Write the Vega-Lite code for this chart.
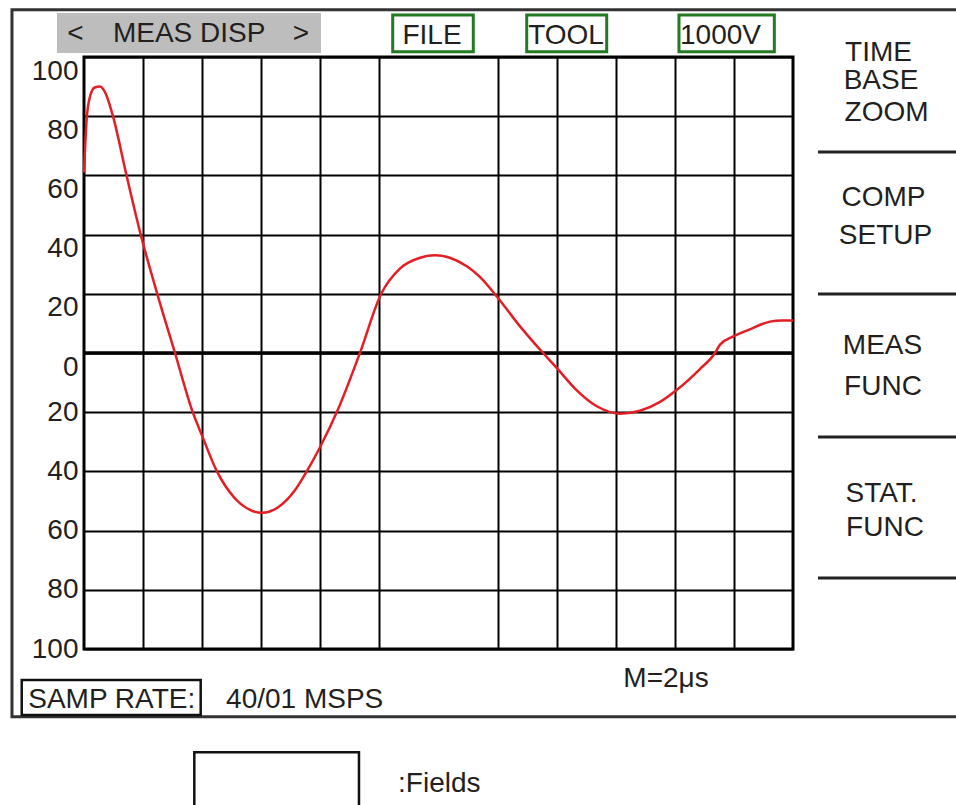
{
  "$schema": "https://vega.github.io/schema/vega-lite/v6.json",
  "width": 709,
  "height": 592,
  "autosize": {"type": "none"},
  "padding": {"left": 84, "top": 57, "right": 163, "bottom": 156},
  "background": "#ffffff",
  "config": {
    "view": {"stroke": "#000000", "strokeWidth": 3},
    "font": "Liberation Sans",
    "text": {"font": "Liberation Sans", "fontSize": 28, "color": "#231f20"}
  },
  "encoding": {
    "x": {
      "field": "x", "type": "quantitative",
      "scale": {"domain": [0, 12], "nice": false, "zero": false},
      "axis": {
        "values": [1, 2, 3, 4, 5, 7, 8, 9, 10, 11],
        "labels": false, "ticks": false, "domain": false, "title": null,
        "grid": true, "gridColor": "#000000", "gridWidth": 2, "gridOpacity": 1
      }
    },
    "y": {
      "field": "y", "type": "quantitative",
      "scale": {"domain": [-100, 100], "nice": false, "zero": false},
      "axis": {
        "values": [-100, -80, -60, -40, -20, 0, 20, 40, 60, 80, 100],
        "labelExpr": "'' + abs(datum.value)",
        "labelFont": "Liberation Sans", "labelFontSize": 28, "labelColor": "#231f20",
        "labelPadding": 6, "labelFlush": false, "labelOverlap": false,
        "labelBaseline": {"condition": {"test": "datum.value >= 0", "value": "top"}, "value": "middle"},
        "ticks": false, "domain": false, "title": null,
        "grid": true, "gridColor": "#000000", "gridWidth": 2, "gridOpacity": 1
      }
    }
  },
  "layer": [
    {
      "data": {"values": [{"x": -1.219, "x2": 14.8, "y": 116.0, "y2": -122.9}]},
      "mark": {"type": "rect", "filled": false, "stroke": "#333333", "strokeWidth": 3},
      "encoding": {"x2": {"field": "x2"}, "y2": {"field": "y2"}}
    },
    {
      "data": {"values": [{"x": -0.457, "x2": 4.011, "y": 114.86, "y2": 101.35}]},
      "mark": {"type": "rect", "fill": "#bdbdbd"},
      "encoding": {"x2": {"field": "x2"}, "y2": {"field": "y2"}}
    },
    {
      "data": {"values": [
        {"x": 5.225, "x2": 6.589, "y": 114.19, "y2": 101.79},
        {"x": 7.493, "x2": 8.847, "y": 114.19, "y2": 101.79},
        {"x": 10.07, "x2": 11.684, "y": 114.19, "y2": 101.79}
      ]},
      "mark": {"type": "rect", "filled": false, "stroke": "#237a23", "strokeWidth": 3},
      "encoding": {"x2": {"field": "x2"}, "y2": {"field": "y2"}}
    },
    {
      "data": {"values": [
        {"x": -1.054, "x2": 1.975, "y": -110.47, "y2": -122.3},
        {"x": 1.867, "x2": 4.654, "y": -134.9, "y2": -160}
      ]},
      "mark": {"type": "rect", "filled": false, "stroke": "#111111", "strokeWidth": 2.5},
      "encoding": {"x2": {"field": "x2"}, "y2": {"field": "y2"}}
    },
    {
      "data": {"values": [
        {"x": 12.423, "x2": 14.8, "y": 67.9},
        {"x": 12.423, "x2": 14.8, "y": 19.93},
        {"x": 12.423, "x2": 14.8, "y": -28.38},
        {"x": 12.423, "x2": 14.8, "y": -76.01}
      ]},
      "mark": {"type": "rule", "stroke": "#222222", "strokeWidth": 3},
      "encoding": {"x2": {"field": "x2"}}
    },
    {
      "data": {"values": [{"x": 0, "x2": 12, "y": 0}]},
      "mark": {"type": "rule", "stroke": "#000000", "strokeWidth": 3.5},
      "encoding": {"x2": {"field": "x2"}}
    },
    {
      "data": {"values": [
        {"x": 0, "y": 61}, {"x": 0.045, "y": 79}, {"x": 0.1, "y": 86.5}, {"x": 0.18, "y": 89.7},
        {"x": 0.27, "y": 90}, {"x": 0.37, "y": 87.5}, {"x": 0.49, "y": 80}, {"x": 0.72, "y": 60},
        {"x": 0.96, "y": 40}, {"x": 1.24, "y": 20}, {"x": 1.54, "y": 0}, {"x": 1.84, "y": -20},
        {"x": 2.0, "y": -28}, {"x": 2.25, "y": -40}, {"x": 2.55, "y": -49}, {"x": 2.81, "y": -53},
        {"x": 3.01, "y": -54}, {"x": 3.28, "y": -52.2}, {"x": 3.57, "y": -46.4}, {"x": 3.77, "y": -40},
        {"x": 3.99, "y": -32}, {"x": 4.3, "y": -19}, {"x": 4.67, "y": 0}, {"x": 5.03, "y": 20},
        {"x": 5.35, "y": 28.6}, {"x": 5.69, "y": 32.2}, {"x": 5.94, "y": 33}, {"x": 6.19, "y": 32.2},
        {"x": 6.48, "y": 29.3}, {"x": 6.7, "y": 25.7}, {"x": 6.99, "y": 19}, {"x": 7.38, "y": 9},
        {"x": 7.77, "y": 0}, {"x": 8.0, "y": -5}, {"x": 8.31, "y": -12}, {"x": 8.68, "y": -18},
        {"x": 9.07, "y": -20.5}, {"x": 9.41, "y": -19.5}, {"x": 9.75, "y": -16.5}, {"x": 10.03, "y": -12.5},
        {"x": 10.42, "y": -5.5}, {"x": 10.68, "y": 0}, {"x": 10.76, "y": 2.7}, {"x": 10.98, "y": 5.5},
        {"x": 11.27, "y": 8}, {"x": 11.61, "y": 10.6}, {"x": 11.81, "y": 11}, {"x": 12.0, "y": 11}
      ]},
      "mark": {"type": "line", "color": "#e31e24", "strokeWidth": 2.5, "interpolate": "monotone"}
    },
    {
      "data": {"values": [
        {"x": -0.144, "y": 107.77, "label": "<"},
        {"x": 1.78, "y": 107.77, "label": "MEAS DISP"},
        {"x": 3.67, "y": 107.77, "label": ">"},
        {"x": 5.89, "y": 106.93, "label": "FILE"},
        {"x": 8.158, "y": 106.93, "label": "TOOL"},
        {"x": 10.773, "y": 106.93, "label": "1000V"},
        {"x": 13.447, "y": 101.5, "label": "TIME"},
        {"x": 13.489, "y": 92.06, "label": "BASE"},
        {"x": 13.583, "y": 81.25, "label": "ZOOM"},
        {"x": 13.532, "y": 52.2, "label": "COMP"},
        {"x": 13.565, "y": 39.36, "label": "SETUP"},
        {"x": 13.515, "y": 2.2, "label": "MEAS"},
        {"x": 13.523, "y": -11.32, "label": "FUNC"},
        {"x": 13.498, "y": -47.8, "label": "STAT."},
        {"x": 13.557, "y": -59.29, "label": "FUNC"},
        {"x": 0.469, "y": -117.16, "label": "SAMP RATE:"},
        {"x": 3.735, "y": -117.16, "label": "40/01 MSPS"},
        {"x": 9.851, "y": -109.97, "label": "M=2μs"}
      ]},
      "mark": {"type": "text", "align": "center", "baseline": "middle"},
      "encoding": {"text": {"field": "label"}}
    },
    {
      "data": {"values": [{"x": 5.315, "y": -145.61, "label": ":Fields"}]},
      "mark": {"type": "text", "align": "left", "baseline": "middle"},
      "encoding": {"text": {"field": "label"}}
    }
  ]
}
